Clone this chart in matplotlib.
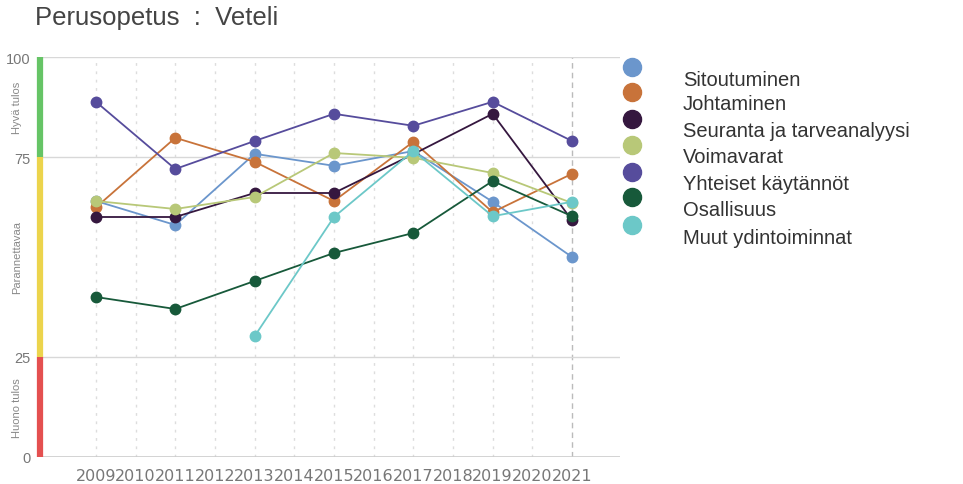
import matplotlib
matplotlib.use('Agg')
import matplotlib.pyplot as plt
from matplotlib.lines import Line2D

plt.rcParams['font.family'] = ['Liberation Sans', 'DejaVu Sans']

# data
years = [2009, 2011, 2013, 2015, 2017, 2019, 2021]
all_years = list(range(2009, 2022))
names = ['Sitoutuminen', 'Johtaminen', 'Seuranta ja tarveanalyysi', 'Voimavarat',
         'Yhteiset käytännöt', 'Osallisuus', 'Muut ydintoiminnat']
sitoutuminen = [64, 58, 75.8, 72.8, 76.5, 63.8, 50]
johtaminen = [62.4, 79.8, 73.8, 64, 78.8, 61.2, 70.8]
seuranta = [60, 60, 66, 66, 75.7, 85.8, 59.2]
voimavarat = [64, 62, 65, 76, 74.8, 71, 63.5]
yhteiset = [88.8, 72, 79, 85.8, 82.8, 88.8, 79]
osallisuus = [40, 37, 44, 51, 56, 69, 60.2]
muut_years = [2013, 2015, 2017, 2019, 2021]
muut = [30.2, 60, 76.5, 60.2, 63.8]
colors = ['#6b96cc', '#c8733a', '#35173f', '#b8c878', '#564c9c', '#17593a', '#6cc8c8']

fig = plt.figure(figsize=(9.63, 4.85), dpi=100)
ax = fig.add_axes([40 / 963, 27 / 485, 580 / 963, 400 / 485])

x0, x1 = 2007.59, 2022.21
ax.set_xlim(x0, x1)
ax.set_ylim(0, 100)

for yr in all_years:
    if yr == 2021:
        ax.axvline(yr, color='#bbbbbb', lw=1, ls=(0, (4, 3)), zorder=0)
    else:
        ax.axvline(yr, color='#dddddd', lw=1, ls=(0, (2, 4)), zorder=0)
for yv in [25, 75, 100]:
    ax.axhline(yv, color='#d8d8d8', lw=1, zorder=0)
ax.axhline(0, color='#cccccc', lw=1.2, zorder=0)

series = [(years, sitoutuminen), (years, johtaminen), (years, seuranta), (years, voimavarat),
          (years, yhteiset), (years, osallisuus), (muut_years, muut)]
for (xs, ys), c in zip(series, colors):
    ax.plot(xs, ys, color=c, lw=1.3, marker='o', markersize=7.5, zorder=3)

# colored quality bands on the left edge
ax.plot([x0, x0], [75, 100], color='#66c466', lw=4.5, clip_on=False, solid_capstyle='butt')
ax.plot([x0, x0], [25, 75], color='#ecd44c', lw=4.5, clip_on=False, solid_capstyle='butt')
ax.plot([x0, x0], [0, 25], color='#e45050', lw=4.5, clip_on=False, solid_capstyle='butt')

for s in ax.spines.values():
    s.set_visible(False)
ax.set_yticks([0, 25, 75, 100])
ax.set_yticklabels(['0', '25', '75', '100'])
ax.set_xticks(all_years)
ax.set_xticklabels([str(y) for y in all_years])
ax.tick_params(axis='y', length=0, pad=7, labelsize=10.5, labelcolor='#777777')
ax.tick_params(axis='x', length=0, pad=8, labelsize=11.5, labelcolor='#777777')
for lab in ax.get_xticklabels():
    lab.set_fontfamily('DejaVu Sans')

ax.text(-0.04, 0.875, 'Hyvä tulos', transform=ax.transAxes, rotation=90,
        ha='center', va='center', fontsize=8, color='#888888')
ax.text(-0.04, 0.5, 'Parannettavaa', transform=ax.transAxes, rotation=90,
        ha='center', va='center', fontsize=8, color='#888888')
ax.text(-0.04, 0.125, 'Huono tulos', transform=ax.transAxes, rotation=90,
        ha='center', va='center', fontsize=8, color='#888888')

fig.text(35 / 963, 1 - 18 / 485, 'Perusopetus  :  Veteli', fontsize=18.5,
         color='#444444', va='center', ha='left')

# legend drawn by hand
leg_y = [80, 105, 132, 158, 185, 210, 238]
for name, c, yy in zip(names, colors, leg_y):
    fig.add_artist(Line2D([632 / 963], [1 - (yy - 12) / 485], marker='o', markersize=13,
                          color=c, linestyle='none', transform=fig.transFigure))
    fig.text(683 / 963, 1 - yy / 485, name, fontsize=14.5, color='#333333',
             va='center', ha='left')

fig.savefig('out.png', dpi=100)
